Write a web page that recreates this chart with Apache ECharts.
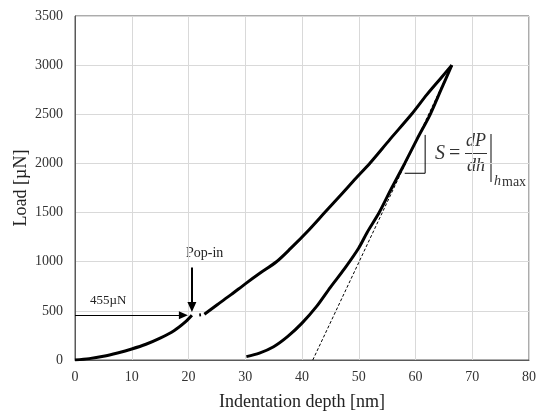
<!DOCTYPE html>
<html>
<head>
<meta charset="utf-8">
<script src="https://cdn.jsdelivr.net/npm/echarts@6/dist/echarts.min.js"></script>
<style>
  html, body { margin: 0; padding: 0; background: #fff; }
  #chart { width: 536px; height: 414px; }
</style>
</head>
<body>
<div id="chart"></div>
<script>
// loading curve before the pop-in
var loadBefore = [[0, 0], [2.5, 14], [5, 38], [7.5, 72], [10, 112], [12.5, 160], [15, 222],
	[17.5, 300], [19.5, 390], [20.6, 455]];
// small dot inside the pop-in gap
var popDot = [[21.9, 458], [22.2, 460]];
// loading curve after the pop-in
var loadAfter = [[22.8, 465], [25, 560], [27.5, 665], [30, 775], [32.5, 880], [35.5, 1000],
	[38, 1135], [41, 1310], [44, 1500], [47, 1690], [49.5, 1850], [52, 2005], [55.5, 2245],
	[59.3, 2500], [62, 2700], [64.5, 2870], [66.4, 3000]];
// unloading curve
var unload = [[66.4, 3000], [64.5, 2750], [62.6, 2500], [60.3, 2250], [58.1, 2000], [55.8, 1750],
	[53.6, 1500], [51.5, 1300], [50, 1140], [47.5, 930], [45, 740], [42.5, 540], [40, 375],
	[37.5, 240], [35, 135], [32.5, 70], [30.2, 34]];
// tangent to the unloading curve at h max
var tangent = [[41.9, 0], [66.4, 3000]];
// slope triangle
var slopeMark = [[58.1, 1900], [61.7, 1900], [61.7, 2290]];
// arrows
var loadArrow = [[0, 455], [19.1, 455]];
var popArrow = [[20.6, 940], [20.6, 540]];

var xTicks = { min: 0, max: 80, step: 10 };
var yTicks = { min: 0, max: 3500, step: 500 };

var serif = '"Liberation Serif", "Times New Roman", serif';

function curve(data, width, type, smooth) {
	return {
		type: 'line',
		data: data,
		showSymbol: false,
		symbol: 'none',
		silent: true,
		smooth: smooth || false,
		lineStyle: { color: '#000', width: width, type: type || 'solid' },
		z: 3
	};
}

var series = [
	curve(tangent, 1, [3, 2]),
	curve(loadBefore, 3, null, 0.3),
	curve(popDot, 3),
	curve(loadAfter, 3, null, 0.3),
	curve(unload, 3, null, 0.3),
	curve(slopeMark, 1),
	{
		type: 'line',
		data: [],
		silent: true,
		markLine: {
			silent: true,
			animation: false,
			label: { show: false },
			data: [
				[{ coord: loadArrow[0], symbol: 'none', lineStyle: { width: 1, color: '#000', type: 'solid' } },
				 { coord: loadArrow[1], symbol: 'triangle', symbolSize: [8, 9], symbolRotate: -90 }],
				[{ coord: popArrow[0], symbol: 'none', lineStyle: { width: 2, color: '#000', type: 'solid' } },
				 { coord: popArrow[1], symbol: 'triangle', symbolSize: [9, 10], symbolRotate: 180 }]
			]
		}
	}
];

var option = {
	animation: false,
	backgroundColor: '#fff',
	grid: {
		left: 75, right: 7, top: 16, bottom: 54,
		outerBoundsMode: 'none',
		containLabel: false,
		show: true, borderColor: '#595959', borderWidth: 1
	},
	xAxis: {
		type: 'value',
		min: xTicks.min, max: xTicks.max, interval: xTicks.step,
		name: 'Indentation depth [nm]',
		nameLocation: 'middle',
		nameGap: 33,
		nameTextStyle: { fontFamily: serif, fontSize: 18, color: '#222' },
		axisLine: { lineStyle: { color: '#595959' } },
		axisTick: { show: false },
		axisLabel: { fontFamily: serif, fontSize: 14, color: '#333', margin: 10 },
		splitLine: { lineStyle: { color: '#d9d9d9' } }
	},
	yAxis: {
		type: 'value',
		min: yTicks.min, max: yTicks.max, interval: yTicks.step,
		name: 'Load [µN]',
		nameLocation: 'middle',
		nameGap: 45,
		nameMoveOverlap: false,
		nameTextStyle: { fontFamily: serif, fontSize: 18, color: '#222' },
		axisLine: { show: true, lineStyle: { color: '#595959' } },
		axisTick: { show: false },
		axisLabel: {
			fontFamily: serif, fontSize: 14, color: '#333', margin: 12,
			formatter: function (v) { return String(v); }
		},
		splitLine: { lineStyle: { color: '#d9d9d9' } }
	},
	graphic: [
		{ type: 'text', left: 90, top: 294, style: { text: '455µN', font: '13px ' + serif, fill: '#222' } },
		{ type: 'text', left: 186, top: 246, style: { text: 'Pop-in', font: '14px ' + serif, fill: '#222' } },
		// S = dP/dh |h max
		{ type: 'text', x: 435, y: 154, style: { text: 'S', font: 'italic 20px ' + serif, fill: '#333', verticalAlign: 'middle' } },
		{ type: 'text', x: 449, y: 154, style: { text: '=', font: '20px ' + serif, fill: '#333', verticalAlign: 'middle' } },
		{ type: 'text', x: 476, y: 141, style: { text: 'dP', font: 'italic 18px ' + serif, fill: '#333', align: 'center', verticalAlign: 'middle' } },
		{ type: 'line', shape: { x1: 465, y1: 153.5, x2: 487, y2: 153.5 }, style: { stroke: '#333', lineWidth: 1 } },
		{ type: 'text', x: 476, y: 166, style: { text: 'dh', font: 'italic 18px ' + serif, fill: '#333', align: 'center', verticalAlign: 'middle' } },
		{ type: 'line', shape: { x1: 491, y1: 134, x2: 491, y2: 182 }, style: { stroke: '#333', lineWidth: 1.2 } },
		{ type: 'text', x: 494, y: 181, style: { text: 'h', font: 'italic 14px ' + serif, fill: '#333', verticalAlign: 'middle' } },
		{ type: 'text', x: 502, y: 182, style: { text: 'max', font: '14px ' + serif, fill: '#333', verticalAlign: 'middle' } }
	],
	series: series
};

var chart = echarts.init(document.getElementById('chart'));
chart.setOption(option);
</script>
</body>
</html>
